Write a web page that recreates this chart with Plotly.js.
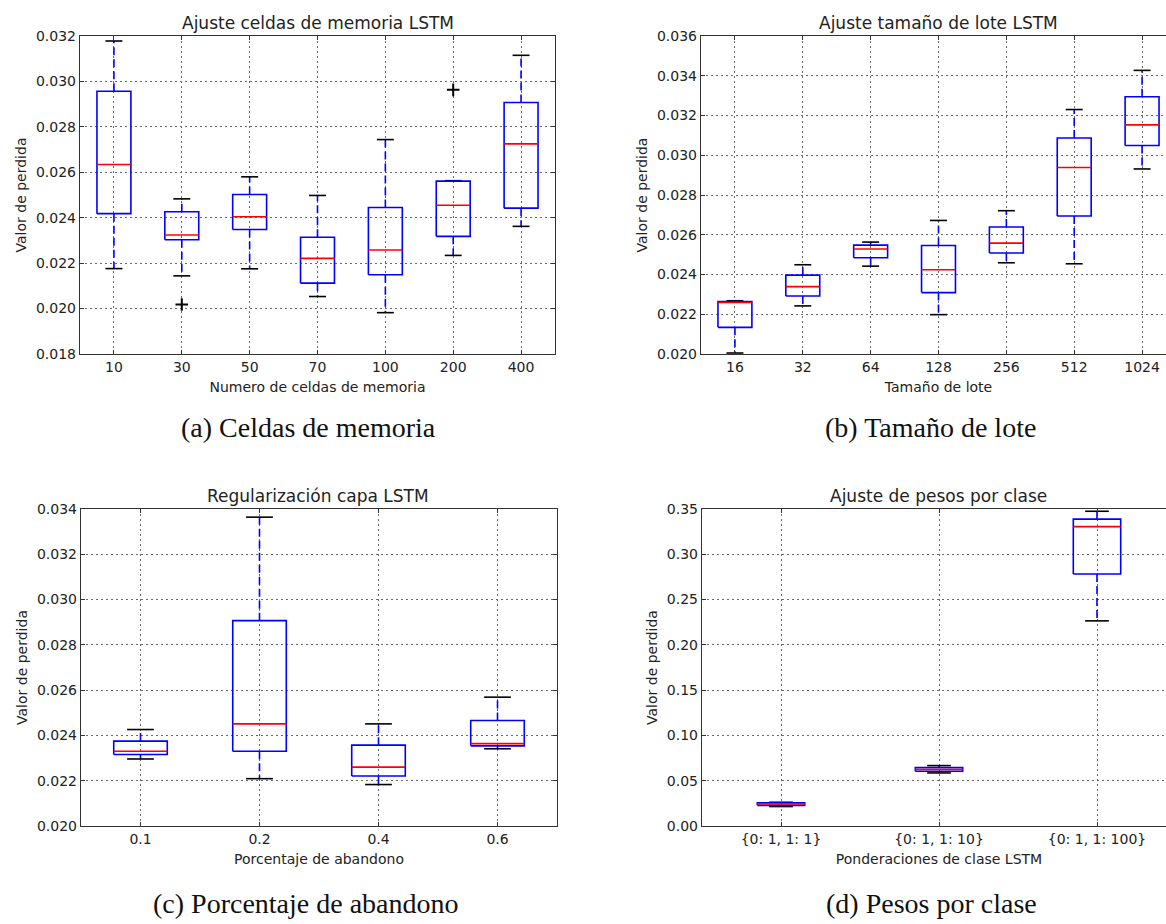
<!DOCTYPE html>
<html>
<head>
<meta charset="utf-8">
<script src="https://cdn.plot.ly/plotly-3.0.1.min.js"></script>
<style>
html, body { margin: 0; padding: 0; overflow: hidden; background: #ffffff; }
#chart { width: 1200px; height: 924px; }
</style>
</head>
<body>
<div id="chart"></div>
<script>
// ---------- (a) Celdas de memoria ----------
const cellsCats   = ['10', '30', '50', '70', '100', '200', '400'];
const cellsLower  = [0.02176, 0.02144, 0.02175, 0.02053, 0.01982, 0.02234, 0.02362];
const cellsQ1     = [0.02418, 0.02303, 0.02348, 0.02112, 0.02149, 0.02318, 0.02442];
const cellsMedian = [0.02634, 0.02324, 0.02404, 0.02221, 0.02258, 0.02455, 0.02725];
const cellsQ3     = [0.02957, 0.02426, 0.02502, 0.02314, 0.02445, 0.02561, 0.02907];
const cellsUpper  = [0.03178, 0.02483, 0.02580, 0.02498, 0.02744, 0.02563, 0.03115];
const cellsFliers = [[], [0.02018], [], [], [], [0.02963], []];

// ---------- (b) Tamaño de lote ----------
const batchCats   = ['16', '32', '64', '128', '256', '512', '1024'];
const batchLower  = [0.02005, 0.02242, 0.02442, 0.02198, 0.02459, 0.02454, 0.02931];
const batchQ1     = [0.02134, 0.02292, 0.02484, 0.02309, 0.02508, 0.02694, 0.03049];
const batchMedian = [0.02259, 0.02339, 0.02528, 0.02424, 0.02558, 0.02938, 0.03153];
const batchQ3     = [0.02264, 0.02397, 0.02548, 0.02546, 0.02639, 0.03087, 0.03294];
const batchUpper  = [0.02268, 0.02449, 0.02563, 0.02672, 0.02721, 0.03230, 0.03427];
const batchFliers = [[], [], [], [], [], [], []];

// ---------- (c) Porcentaje de abandono ----------
const dropCats   = ['0.1', '0.2', '0.4', '0.6'];
const dropLower  = [0.02296, 0.02209, 0.02183, 0.02341];
const dropQ1     = [0.02316, 0.02330, 0.02221, 0.02354];
const dropMedian = [0.02330, 0.02451, 0.02260, 0.02364];
const dropQ3     = [0.02375, 0.02907, 0.02357, 0.02466];
const dropUpper  = [0.02426, 0.03364, 0.02451, 0.02569];
const dropFliers = [[], [], [], []];

// ---------- (d) Pesos por clase ----------
const weightCats   = ['{0: 1, 1: 1}', '{0: 1, 1: 10}', '{0: 1, 1: 100}'];
const weightLower  = [0.0215, 0.0586, 0.2265];
const weightQ1     = [0.0228, 0.0605, 0.2782];
const weightMedian = [0.0243, 0.0623, 0.3305];
const weightQ3     = [0.0255, 0.0645, 0.3388];
const weightUpper  = [0.0262, 0.0667, 0.3475];
const weightFliers = [[], [], []];

const BLUE = '#0000ff', RED = '#ff0000', BLACK = '#000000';

function boxTraces(xa, ya, cats, lower, q1, med, q3, upper, fliers) {
  const n = cats.length;
  const w = Math.min(0.5, Math.max(0.15, 0.15 * (n - 1)));
  const cw = w / 2;
  const bx = [], by = [], mx = [], my = [], wx = [], wy = [], cx = [], cy = [], fx = [], fy = [];
  for (let i = 0; i < n; i++) {
    const p = i + 1;
    bx.push(p - w/2, p + w/2, p + w/2, p - w/2, p - w/2, null);
    by.push(q1[i], q1[i], q3[i], q3[i], q1[i], null);
    mx.push(p - w/2, p + w/2, null);
    my.push(med[i], med[i], null);
    wx.push(p, p, null, p, p, null);
    wy.push(q3[i], upper[i], null, q1[i], lower[i], null);
    cx.push(p - cw/2, p + cw/2, null, p - cw/2, p + cw/2, null);
    cy.push(upper[i], upper[i], null, lower[i], lower[i], null);
    fliers[i].forEach(v => { fx.push(p); fy.push(v); });
  }
  const common = { xaxis: xa, yaxis: ya, mode: 'lines', hoverinfo: 'skip', showlegend: false, connectgaps: false };
  return [
    Object.assign({}, common, { x: wx, y: wy, line: { color: BLUE, width: 1.6, dash: '8px,4px' } }),
    Object.assign({}, common, { x: cx, y: cy, line: { color: BLACK, width: 1.6 } }),
    Object.assign({}, common, { x: bx, y: by, line: { color: BLUE, width: 1.6 } }),
    Object.assign({}, common, { x: mx, y: my, line: { color: RED, width: 1.6 } }),
    { xaxis: xa, yaxis: ya, x: fx, y: fy, mode: 'markers', hoverinfo: 'skip', showlegend: false,
      marker: { symbol: 'cross-thin-open', size: 9, color: BLACK, line: { color: BLACK, width: 2 } } }
  ];
}

const data = [].concat(
  boxTraces('x',  'y',  cellsCats,  cellsLower,  cellsQ1,  cellsMedian,  cellsQ3,  cellsUpper,  cellsFliers),
  boxTraces('x2', 'y2', batchCats,  batchLower,  batchQ1,  batchMedian,  batchQ3,  batchUpper,  batchFliers),
  boxTraces('x3', 'y3', dropCats,   dropLower,   dropQ1,   dropMedian,   dropQ3,   dropUpper,   dropFliers),
  boxTraces('x4', 'y4', weightCats, weightLower, weightQ1, weightMedian, weightQ3, weightUpper, weightFliers)
);

const TXT = '#222222', GRID = '#6a6a6a', SPINE = '#333333';
const FONT = 'DejaVu Sans, Verdana, sans-serif';

function xAxis(domain, anchor, cats, title) {
  return {
    domain: domain, anchor: anchor, range: [0.5, cats.length + 0.5],
    tickmode: 'array', tickvals: cats.map((c, i) => i + 1), ticktext: cats,
    showgrid: true, griddash: '2px,3px', gridcolor: GRID, gridwidth: 1,
    showline: true, linecolor: SPINE, linewidth: 1.2, mirror: 'ticks',
    ticks: 'inside', ticklen: 4, tickcolor: SPINE, zeroline: false,
    tickfont: { family: FONT, size: 14, color: TXT },
    title: { text: title, font: { family: FONT, size: 14, color: TXT }, standoff: 8 }
  };
}
function yAxis(domain, anchor, range, dtick, fmt, title) {
  return {
    domain: domain, anchor: anchor, range: range, tick0: 0, dtick: dtick, tickformat: fmt,
    showgrid: true, griddash: '2px,3px', gridcolor: GRID, gridwidth: 1,
    showline: true, linecolor: SPINE, linewidth: 1.2, mirror: 'ticks',
    ticks: 'inside', ticklen: 4, tickcolor: SPINE, zeroline: false,
    tickfont: { family: FONT, size: 14, color: TXT },
    title: { text: title, font: { family: FONT, size: 14, color: TXT }, standoff: 6 }
  };
}

const W = 1200, H = 924;
const topRow = [1 - 354 / H, 1 - 36 / H];
const botRow = [1 - 826 / H, 1 - 509 / H];

function titleAnn(text, xc, yc) {
  return { text: text, x: xc / W, y: 1 - yc / H, xref: 'paper', yref: 'paper', showarrow: false,
           xanchor: 'center', yanchor: 'middle', font: { family: FONT, size: 17, color: TXT } };
}
function capAnn(text, xc, yc) {
  return { text: text, x: xc / W, y: 1 - yc / H, xref: 'paper', yref: 'paper', showarrow: false,
           xanchor: 'center', yanchor: 'middle', font: { family: 'Liberation Serif, Times New Roman, serif', size: 28, color: '#111111' } };
}

const layout = {
  width: W, height: H, margin: { l: 0, r: 0, t: 0, b: 0 },
  paper_bgcolor: '#ffffff', plot_bgcolor: '#ffffff', showlegend: false,
  xaxis:  xAxis([80 / W, 555 / W], 'y', cellsCats, 'Numero de celdas de memoria'),
  yaxis:  yAxis(topRow, 'x', [0.018, 0.032], 0.002, '.3f', 'Valor de perdida'),
  xaxis2: xAxis([701 / W, 1176 / W], 'y2', batchCats, 'Tamaño de lote'),
  yaxis2: yAxis(topRow, 'x2', [0.020, 0.036], 0.002, '.3f', 'Valor de perdida'),
  xaxis3: xAxis([81 / W, 557 / W], 'y3', dropCats, 'Porcentaje de abandono'),
  yaxis3: yAxis(botRow, 'x3', [0.020, 0.034], 0.002, '.3f', 'Valor de perdida'),
  xaxis4: xAxis([702 / W, 1176 / W], 'y4', weightCats, 'Ponderaciones de clase LSTM'),
  yaxis4: yAxis(botRow, 'x4', [0.0, 0.35], 0.05, '.2f', 'Valor de perdida'),
  annotations: [
    titleAnn('Ajuste celdas de memoria LSTM', 317.5, 23),
    titleAnn('Ajuste tamaño de lote LSTM', 938, 23),
    titleAnn('Regularización capa LSTM', 318, 496),
    titleAnn('Ajuste de pesos por clase', 938, 496),
    capAnn('(a) Celdas de memoria', 308, 427),
    capAnn('(b) Tamaño de lote', 930, 427),
    capAnn('(c) Porcentaje de abandono', 306, 903),
    capAnn('(d) Pesos por clase', 932, 903)
  ]
};

Plotly.newPlot('chart', data, layout, { displayModeBar: false, staticPlot: true });
</script>
</body>
</html>
